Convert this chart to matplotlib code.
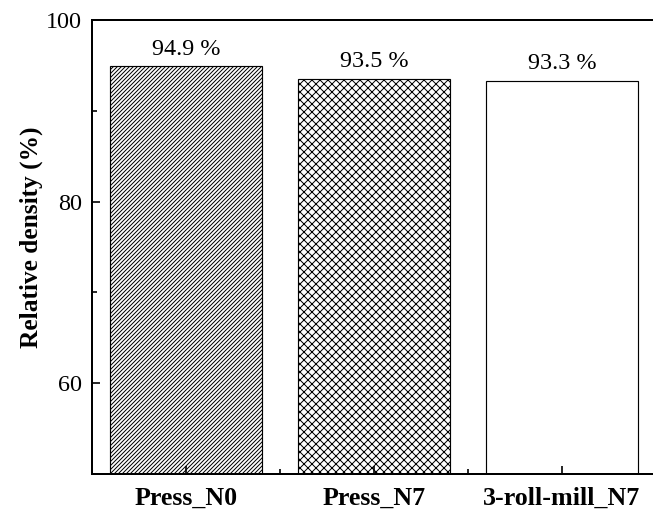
import matplotlib
matplotlib.use("Agg")
import matplotlib.pyplot as plt

categories = ["Press_N0", "Press_N7", "3-roll-mill_N7"]
density = [94.9, 93.5, 93.3]
hatches = ["//////////", "xxxxx", ""]
yticks = [60, 80, 100]

DPI = 120
plt.rcParams["font.family"] = ["Liberation Serif", "DejaVu Serif"]
plt.rcParams["hatch.linewidth"] = 0.6
plt.rcParams["hatch.color"] = "black"

fig = plt.figure(figsize=(653 / DPI, 515 / DPI), dpi=DPI)
ax_left, ax_bottom, ax_w, ax_h = 92, 41, 564, 454
ax = fig.add_axes([ax_left / 653, ax_bottom / 515, ax_w / 653, ax_h / 515])

x = list(range(len(categories)))
bars = ax.bar(x, density, width=0.81, color="white", edgecolor="black",
              linewidth=0.7)
for b, h in zip(bars, hatches):
    b.set_hatch(h)

for xi, v in zip(x, density):
    ax.annotate(f"{v:.1f} %", xy=(xi, v), xytext=(0, 4.0),
                textcoords="offset points", ha="center", va="bottom",
                fontsize=14.5)

ax.set_xlim(-0.5, 2.5)
ax.set_ylim(50, 100)
ax.set_yticks(yticks)
ax.set_yticks([70, 90], minor=True)
ax.set_xticks(x)
ax.set_xticks([0.5, 1.5], minor=True)
ax.set_xticklabels(categories, fontweight="bold", fontsize=15.6)
ax.tick_params(axis="y", labelsize=14.5)
ax.tick_params(which="major", direction="in", length=5, width=1.0, pad=6)
ax.tick_params(which="minor", direction="in", length=3, width=1.0)
ax.tick_params(axis="x", which="major", pad=7.5)

for s in ax.spines.values():
    s.set_linewidth(1.2)

ax.set_ylabel("Relative density (%)", fontweight="bold", fontsize=15.2)
ax.yaxis.set_label_coords(-49 / ax_w, 0.522)

fig.savefig("out.png", dpi=DPI)
